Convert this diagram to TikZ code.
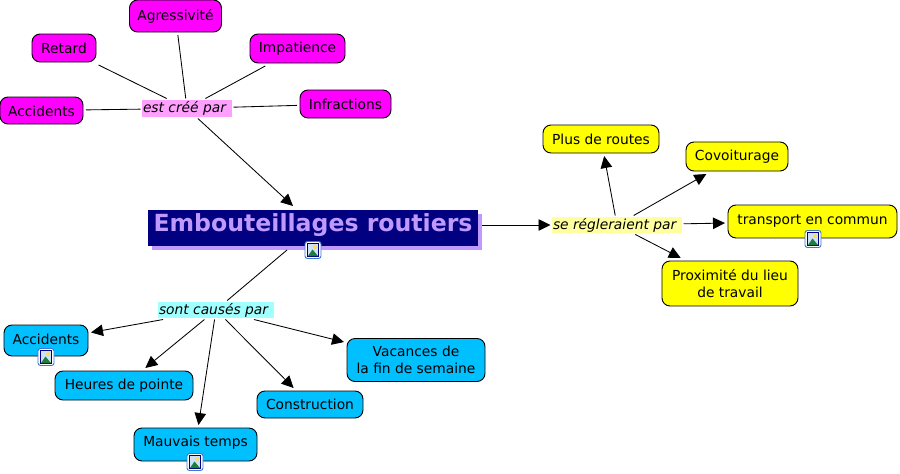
\documentclass[tikz,border=0pt]{standalone}
\usepackage{fontspec}
\setmainfont{DejaVu Sans}
\usetikzlibrary{arrows.meta,shadows}
\definecolor{magc}{HTML}{FF00FF}
\definecolor{magl}{HTML}{FFA0FF}
\definecolor{cyanc}{HTML}{00C0FF}
\definecolor{cyanl}{HTML}{A0FFFF}
\definecolor{yelc}{HTML}{FFFF00}
\definecolor{yell}{HTML}{FFFFA0}
\definecolor{titlec}{HTML}{C099FF}
\definecolor{navyc}{HTML}{000080}
\definecolor{iconborder}{HTML}{3C78D2}
\definecolor{iconsky}{HTML}{CDE1FA}
\definecolor{iconsun}{HTML}{F5E15A}
\definecolor{iconhill}{HTML}{1E7D3C}
\newcommand\basedrop[2]{\raisebox{-#1pt}[0pt][0pt]{#2}}
\newcommand\leftin[2]{\makebox[#1pt][l]{\hspace{1pt}#2}}
\tikzset{
  x=1pt,y=-1pt,
  concept/.style={draw=black,line width=0.9pt,rounded corners=8pt,inner sep=0pt,outer sep=3pt,align=center,
    font=\fontsize{13.8}{17}\selectfont,text=black},
  magbox/.style={concept,fill=magc},
  cyanbox/.style={concept,fill=cyanc},
  yelbox/.style={concept,fill=yelc},
  linker/.style={inner sep=0pt,outer sep=1.5pt,font=\fontsize{13.8}{16}\selectfont\itshape,text=black},
  mainbox/.style={fill=navyc,draw=none,inner sep=0pt,outer sep=4pt,text=titlec,
    font=\fontsize{23.6}{28}\selectfont\bfseries,
    drop shadow={shadow xshift=4pt,shadow yshift=-4pt,fill=titlec,opacity=1}},
  link/.style={draw=black,line width=0.85pt},
  arrow/.style={link,-{Triangle[length=12pt,width=11.5pt]}},
  picicon/.pic={
    \fill[white,draw=iconborder,line width=0.9pt,rounded corners=2.5pt] (-8,-8.5) rectangle (8,8.5);
    \fill[iconsky,draw=navyc,line width=0.9pt] (-5.5,-6.5) rectangle (5.5,6.5);
    \fill[iconsun] (2,-3) circle (2);
    \fill[iconhill] (-5,6) -- (-0.5,-0.5) -- (2,2.5) -- (5,6) -- cycle;
  }
}
\begin{document}
\begin{tikzpicture}
\useasboundingbox (0,0) rectangle (900,474);
\node[mainbox,minimum width=330pt,minimum height=36pt] (main) at (313,228) {\basedrop{3.7}{Embouteillages routiers}};

% linking phrases
\node[linker,fill=magl,minimum width=90pt,minimum height=17pt] (cree) at (187,108.5) {\leftin{90}{est créé par}};
\node[linker,fill=cyanl,minimum width=116pt,minimum height=16pt] (cause) at (216,310) {\leftin{116}{sont causés par}};
\node[linker,fill=yell,minimum width=130pt,minimum height=16pt] (regle) at (617,225) {\leftin{130}{se régleraient par}};

% magenta
\node[magbox,minimum width=92pt,minimum height=32pt] (agr) at (175.5,16) {Agressivité};
\node[magbox,minimum width=64pt,minimum height=28pt] (ret) at (64,48) {Retard};
\node[magbox,minimum width=95pt,minimum height=29pt] (imp) at (297.5,48.5) {Impatience};
\node[magbox,minimum width=91pt,minimum height=28pt] (inf) at (345.5,104) {Infractions};
\node[magbox,minimum width=83pt,minimum height=27pt] (acc) at (41.5,110.5) {\basedrop{6.2}{Accidents}};

% yellow
\node[yelbox,minimum width=116pt,minimum height=28pt] (rou) at (601,139) {Plus de routes};
\node[yelbox,minimum width=102pt,minimum height=29pt] (cov) at (737,156.5) {Covoiturage};
\node[yelbox,minimum width=169pt,minimum height=33pt] (tra) at (812.5,221.5) {\basedrop{2.5}{transport en commun}};
\node[yelbox,minimum width=136pt,minimum height=45pt] (pro) at (730,283.5) {Proximité du lieu\\de travail};

% cyan
\node[cyanbox,minimum width=84pt,minimum height=31pt] (aci) at (46,340.5) {\basedrop{3.8}{Accidents}};
\node[cyanbox,minimum width=138pt,minimum height=29pt] (heu) at (124,385.5) {Heures de pointe};
\node[cyanbox,minimum width=123pt,minimum height=33pt] (mau) at (195.5,444.5) {\basedrop{2.2}{Mauvais temps}};
\node[cyanbox,minimum width=106pt,minimum height=27pt] (con) at (310,404.5) {Construction};
\node[cyanbox,minimum width=138pt,minimum height=43pt] (vac) at (416,360) {Vacances de\\la fin de semaine};

% connectors
\draw[link] (ret) -- (cree);
\draw[link] (agr) -- (cree);
\draw[link] (imp) -- (cree);
\draw[link] (inf) -- (cree);
\draw[link] (acc) -- (cree);
\draw[arrow] (cree) -- ([xshift=-20pt]main.north);
\draw[link] (main) -- (cause);
\draw[arrow] (cause) -- (aci);
\draw[arrow] (cause) -- (heu);
\draw[arrow] (cause) -- (mau);
\draw[arrow] (cause) -- (con);
\draw[arrow] (cause) -- (vac);
\draw[arrow] (regle -| main.east) -- (regle);
\draw[arrow] (regle) -- (rou);
\draw[arrow] (regle) -- (cov);
\draw[arrow] (regle) -- (tra);
\draw[arrow] (regle) -- (pro);

% resource icons
\pic at (313,250) {picicon};
\pic at (46,357) {picicon};
\pic at (195,462) {picicon};
\pic at (813,239) {picicon};
\end{tikzpicture}
\end{document}
